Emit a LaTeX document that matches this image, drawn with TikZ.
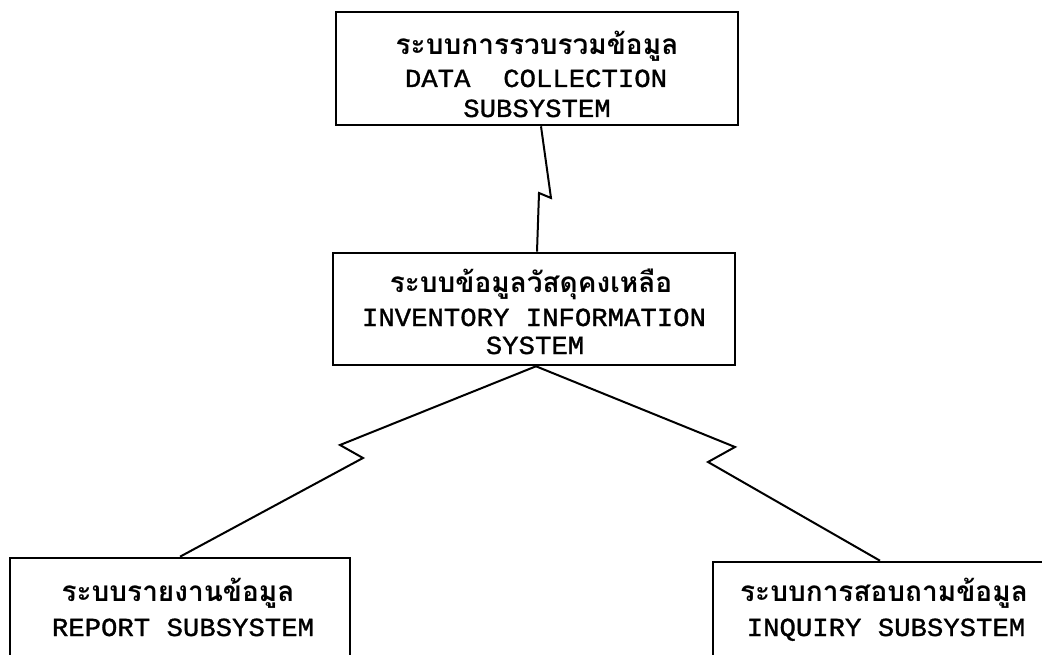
\documentclass[tikz,border=0pt]{standalone}
\usepackage{fontspec}
\setmonofont[FakeStretch=1.05,FakeBold=1.2]{Liberation Mono}
\newfontfamily\thaifont[Script=Thai]{Loma}
\tikzset{
  box/.style={draw, line width=2.6pt, rectangle, inner sep=0pt},
  link/.style={draw, line width=2pt, line join=miter},
  thline/.style={anchor=base, inner sep=0pt, font=\thaifont\bfseries\fontsize{28}{30}\selectfont},
  enline/.style={anchor=base, inner sep=0pt, font=\ttfamily\fontsize{26}{28}\selectfont},
}
\begin{document}
\begin{tikzpicture}[x=1pt,y=-1pt]
\clip (0,0) rectangle (1042,655);
\fill[white] (0,0) rectangle (1042,655);
% boxes
\node[box, minimum width=402pt, minimum height=113pt] (top) at (537,68.5) {};
\node[box, minimum width=402pt, minimum height=112pt] (mid) at (534,309) {};
\node[box, minimum width=340pt, minimum height=110pt] (rep) at (180,613) {};
\node[box, minimum width=346pt, minimum height=100pt] (inq) at (886,612) {};
% texts
\node[thline] (t1) at (537,55) {ระบบการรวบรวมข้อมูล};
\node[enline] (t2) at (536,87) {DATA~~COLLECTION};
\node[enline] (t3) at (537,117) {SUBSYSTEM};
\node[thline] (m1) at (531,292) {ระบบข้อมูลวัสดุคงเหลือ};
\node[enline] (m2) at (534,326) {INVENTORY INFORMATION};
\node[enline] (m3) at (535,354) {SYSTEM};
\node[thline] (r1) at (178,601) {ระบบรายงานข้อมูล};
\node[enline] (r2) at (183,636) {REPORT SUBSYSTEM};
\node[thline] (q1) at (884,601) {ระบบการสอบถามข้อมูล};
\node[enline] (q2) at (886,636) {INQUIRY SUBSYSTEM};
% connectors
\draw[link] ([xshift=4pt]top.south) -- (551,198) -- (539,193) -- ([xshift=3pt]mid.north);
\draw[link] ([xshift=2pt]mid.south) -- (340,445) -- (363,458) -- (rep.north);
\draw[link] ([xshift=2pt]mid.south) -- (735,447) -- (708,462) -- ([xshift=-6pt]inq.north);
\end{tikzpicture}
\end{document}
